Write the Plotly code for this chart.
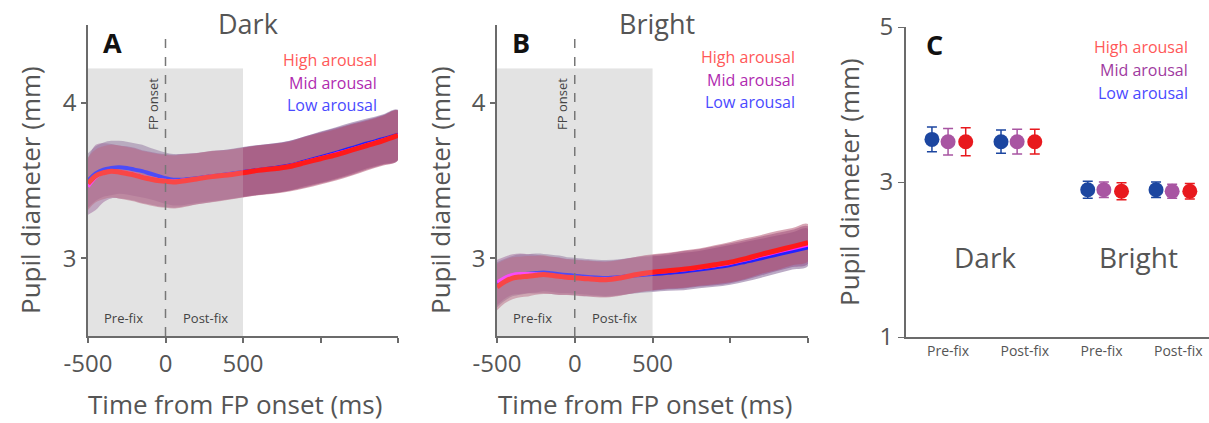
import plotly.graph_objects as go

# ---------------- data ----------------
time_ms = [-500, -450, -400, -350, -300, -250, -200, -150, -100, -50, 0, 50, 100,
           200, 300, 400, 500, 600, 700, 800, 900, 1000, 1100, 1200, 1300, 1400, 1500]

dark_high = [3.48, 3.53, 3.55, 3.56, 3.555, 3.545, 3.535, 3.52, 3.51, 3.50, 3.495, 3.49, 3.495,
             3.51, 3.525, 3.535, 3.55, 3.565, 3.575, 3.59, 3.615, 3.64, 3.665, 3.695, 3.725, 3.755, 3.79]
dark_mid = [3.46, 3.52, 3.55, 3.56, 3.555, 3.55, 3.54, 3.525, 3.515, 3.505, 3.50, 3.495, 3.50,
            3.512, 3.527, 3.538, 3.553, 3.567, 3.578, 3.594, 3.62, 3.645, 3.672, 3.70, 3.73, 3.76, 3.79]
dark_low = [3.50, 3.545, 3.57, 3.58, 3.585, 3.58, 3.57, 3.56, 3.545, 3.53, 3.515, 3.505, 3.505,
            3.515, 3.528, 3.54, 3.555, 3.568, 3.58, 3.596, 3.623, 3.65, 3.678, 3.708, 3.738, 3.765, 3.795]
dark_high_sem = [0.17, 0.17, 0.17, 0.17, 0.17, 0.17, 0.17, 0.17, 0.17, 0.17, 0.17, 0.17, 0.17,
                 0.165, 0.165, 0.16, 0.16, 0.16, 0.16, 0.16, 0.165, 0.165, 0.165, 0.165, 0.16, 0.16, 0.16]
dark_mid_sem = [0.18, 0.21, 0.19, 0.175, 0.17, 0.17, 0.17, 0.17, 0.17, 0.17, 0.17, 0.17, 0.17,
                0.165, 0.165, 0.16, 0.16, 0.16, 0.16, 0.16, 0.165, 0.165, 0.165, 0.165, 0.16, 0.16, 0.16]
dark_low_sem = [0.175, 0.175, 0.175, 0.175, 0.17, 0.17, 0.17, 0.17, 0.165, 0.165, 0.165, 0.165, 0.165,
                0.16, 0.16, 0.16, 0.16, 0.16, 0.16, 0.16, 0.16, 0.165, 0.165, 0.165, 0.16, 0.16, 0.16]

bright_high = [2.815, 2.85, 2.872, 2.88, 2.884, 2.89, 2.895, 2.89, 2.884, 2.878, 2.875, 2.87, 2.867,
               2.862, 2.875, 2.895, 2.91, 2.92, 2.93, 2.943, 2.958, 2.975, 2.998, 3.025, 3.05, 3.075, 3.10]
bright_mid = [2.845, 2.875, 2.895, 2.90, 2.90, 2.898, 2.895, 2.89, 2.885, 2.88, 2.877, 2.873, 2.87,
              2.866, 2.877, 2.894, 2.906, 2.916, 2.926, 2.938, 2.952, 2.968, 2.99, 3.015, 3.04, 3.063, 3.085]
bright_low = [2.83, 2.862, 2.885, 2.895, 2.90, 2.905, 2.908, 2.903, 2.897, 2.892, 2.888, 2.883, 2.878,
              2.873, 2.88, 2.89, 2.898, 2.906, 2.915, 2.927, 2.941, 2.957, 2.978, 3.0, 3.024, 3.047, 3.07]
bright_high_sem = [0.15, 0.14, 0.135, 0.13, 0.13, 0.125, 0.125, 0.12, 0.12, 0.115, 0.115, 0.115, 0.115,
                   0.115, 0.115, 0.115, 0.115, 0.115, 0.12, 0.12, 0.125, 0.13, 0.13, 0.125, 0.125, 0.12, 0.12]
bright_mid_sem = [0.145, 0.135, 0.13, 0.13, 0.125, 0.125, 0.12, 0.12, 0.12, 0.115, 0.115, 0.115, 0.115,
                  0.115, 0.115, 0.115, 0.115, 0.115, 0.12, 0.12, 0.125, 0.128, 0.128, 0.125, 0.122, 0.12, 0.12]
bright_low_sem = [0.145, 0.135, 0.13, 0.13, 0.125, 0.125, 0.12, 0.12, 0.12, 0.115, 0.115, 0.115, 0.115,
                  0.115, 0.115, 0.115, 0.115, 0.115, 0.12, 0.12, 0.125, 0.128, 0.128, 0.125, 0.122, 0.12, 0.12]

# Panel C
c_categories = ["Pre-fix", "Post-fix", "Pre-fix", "Post-fix"]
c_low = [3.55, 3.52, 2.90, 2.90]
c_mid = [3.52, 3.52, 2.90, 2.88]
c_high = [3.52, 3.52, 2.88, 2.88]
c_low_err = [0.16, 0.15, 0.11, 0.10]
c_mid_err = [0.17, 0.16, 0.10, 0.09]
c_high_err = [0.18, 0.16, 0.11, 0.10]

legend_labels = ["High arousal", "Mid arousal", "Low arousal"]

# ---------------- style ----------------
FONT = "Open Sans"
TXT = "#555555"
AX = "#6b6b6b"
W, H = 1209, 423

def py(p):  # pixel y -> paper
    return 1 - p / H

def px(p):
    return p / W

fig = go.Figure()

band_cols = {"high": "rgba(175,75,105,0.5)", "mid": "rgba(140,70,135,0.5)", "low": "rgba(120,85,140,0.5)"}
line_cols = {"high": "#ff1a1a", "mid": "#ff22ff", "low": "#2222ff"}
line_w = {"high": 5, "mid": 3.5, "low": 4}

def add_panel(xa, ya, series):
    for key, mean, sem in series:
        up = [m + s for m, s in zip(mean, sem)]
        lo = [m - s for m, s in zip(mean, sem)]
        fig.add_trace(go.Scatter(x=time_ms + time_ms[::-1], y=up + lo[::-1], fill="toself",
                                 fillcolor=band_cols[key], line=dict(width=0), mode="lines",
                                 line_shape="spline", xaxis=xa, yaxis=ya, showlegend=False,
                                 hoverinfo="skip"))
    for key in ["low", "mid", "high"]:
        for k, mean, sem in series:
            if k == key:
                fig.add_trace(go.Scatter(x=time_ms, y=mean, mode="lines", line_shape="spline",
                                         line=dict(color=line_cols[key], width=line_w[key]),
                                         xaxis=xa, yaxis=ya, showlegend=False))

add_panel("x", "y", [("low", dark_low, dark_low_sem), ("mid", dark_mid, dark_mid_sem),
                     ("high", dark_high, dark_high_sem)])
add_panel("x2", "y2", [("low", bright_low, bright_low_sem), ("mid", bright_mid, bright_mid_sem),
                       ("high", bright_high, bright_high_sem)])

# Panel C
group_x = [1.0, 1.9, 3.03, 3.92]
offs = {"low": -0.21, "mid": 0.0, "high": 0.23}
c_cols = {"low": "#1c46a0", "mid": "#a855a2", "high": "#e8191e"}
for key, vals, errs in [("low", c_low, c_low_err), ("mid", c_mid, c_mid_err), ("high", c_high, c_high_err)]:
    fig.add_trace(go.Scatter(x=[g + offs[key] for g in group_x], y=vals, mode="markers",
                             marker=dict(color=c_cols[key], size=15),
                             error_y=dict(type="data", array=errs, color=c_cols[key], thickness=1.5, width=5),
                             xaxis="x3", yaxis="y3", showlegend=False))

ydom = [py(336), py(25)]
axis_common = dict(showline=True, linecolor=AX, linewidth=1.5, ticks="outside", ticklen=5,
                   tickcolor=AX, tickwidth=1.5, showgrid=False, zeroline=False, automargin=False,
                   tickfont=dict(family=FONT, size=24, color=TXT))

fig.update_layout(
    width=W, height=H, margin=dict(l=0, r=0, t=0, b=0, autoexpand=False),
    paper_bgcolor="white", plot_bgcolor="rgba(0,0,0,0)",
    xaxis=dict(domain=[px(88), px(398)], range=[-500, 1500], tickvals=[-500, 0, 500, 1000, 1500],
               ticktext=["-500", "0", "500", "", ""], anchor="y", **axis_common),
    yaxis=dict(domain=ydom, range=[2.5, 4.5], tickvals=[3, 4], anchor="x", **axis_common),
    xaxis2=dict(domain=[px(497), px(808)], range=[-500, 1500], tickvals=[-500, 0, 500, 1000, 1500],
                ticktext=["-500", "0", "500", "", ""], anchor="y2", **axis_common),
    yaxis2=dict(domain=ydom, range=[2.5, 4.5], tickvals=[3, 4], anchor="x2", **axis_common),
    xaxis3=dict(domain=[px(906), 1.0], range=[0.452, 4.40], tickvals=[1, 2, 3, 4], ticktext=c_categories,
                anchor="y3", showline=True, linecolor=AX, linewidth=2, ticks="", showgrid=False,
                zeroline=False, automargin=False, tickfont=dict(family=FONT, size=14, color=TXT)),
    yaxis3=dict(domain=[py(337), py(27)], range=[1, 5], tickvals=[1, 3, 5], anchor="x3",
                showline=True, linecolor=AX, linewidth=2, ticks="outside", ticklen=6, tickcolor=AX,
                showgrid=False, zeroline=False, automargin=False,
                tickfont=dict(family=FONT, size=24, color=TXT)),
)

shapes = []
for xr, yr in [("x", "y"), ("x2", "y2")]:
    shapes.append(dict(type="rect", xref=xr, yref=yr, x0=-500, x1=500, y0=2.5, y1=4.22,
                       fillcolor="#e3e3e3", line=dict(width=0), layer="below"))
    shapes.append(dict(type="rect", xref=xr, yref=yr, x0=-500, x1=500, y0=2.5, y1=4.22,
                       fillcolor="rgba(227,227,227,0.22)", line=dict(width=0), layer="above"))
    shapes.append(dict(type="line", xref=xr, yref=yr, x0=0, x1=0, y0=2.5, y1=4.42,
                       line=dict(color="#777777", width=1.5, dash="dash"), layer="above"))
fig.update_layout(shapes=shapes)

ann = []
def t(x, y, text, size, color=TXT, xanchor="center", angle=0, bold=False):
    ann.append(dict(x=x, y=y, xref="paper", yref="paper", text=("<b>%s</b>" % text) if bold else text,
                    showarrow=False, xanchor=xanchor, yanchor="middle", textangle=angle,
                    font=dict(family=FONT, size=size, color=color)))

# panel titles / letters
t(px(248), py(24), "Dark", 27)
t(px(657), py(24), "Bright", 27)
t(px(112), py(42), "A", 27, color="#111111", bold=True)
t(px(521), py(42), "B", 27, color="#111111", bold=True)
t(px(934), py(44), "C", 27, color="#111111", bold=True)

# axis titles
t(px(30), py(190), "Pupil diameter (mm)", 26, angle=-90)
t(px(440), py(190), "Pupil diameter (mm)", 26, angle=-90)
t(px(849), py(182), "Pupil diameter (mm)", 26, angle=-90)
t(px(235), py(404), "Time from FP onset (ms)", 26)
t(px(645), py(404), "Time from FP onset (ms)", 26)

# legends
leg_cols_ab = ["#ff5858", "#b02ab0", "#4a4aff"]
leg_cols_c = ["#ff5858", "#a03aa0", "#4a4aff"]
for i, lab in enumerate(legend_labels):
    t(px(379), py(60 + 22.5 * i), lab, 16, color=leg_cols_ab[i], xanchor="right")
    t(px(797), py(57 + 22.5 * i), lab, 16, color=leg_cols_ab[i], xanchor="right")
    t(px(1190), py(47 + 23 * i), lab, 16, color=leg_cols_c[i], xanchor="right")

# inner labels
for off in [0, 409]:
    t(px(123 + off), py(318), "Pre-fix", 13, color="#444444")
    t(px(205 + off), py(318), "Post-fix", 13, color="#444444")
    t(px(153 + off), py(104), "FP onset", 13, color="#444444", angle=-90)

# panel C condition labels
t(px(985), py(257), "Dark", 28)
t(px(1138), py(257), "Bright", 28)

fig.update_layout(annotations=ann)
fig.write_html("out.html")
